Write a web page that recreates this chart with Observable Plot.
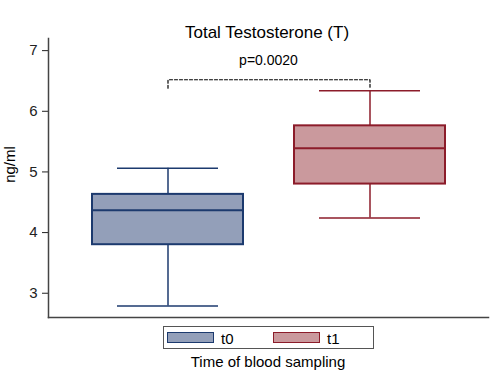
<!DOCTYPE html>
<html><head><meta charset="utf-8">
<script src="https://cdn.jsdelivr.net/npm/d3@7"></script>
<script src="https://cdn.jsdelivr.net/npm/@observablehq/plot@0.6"></script>
<style>
body{margin:0;background:#fff;font-family:"Liberation Sans",Arial,sans-serif;}
#wrap{position:relative;width:490px;height:388px;overflow:hidden;}
.abs{position:absolute;line-height:1;white-space:nowrap;color:#000;}
.sw{position:absolute;box-sizing:border-box;border:1.5px solid;}
</style></head><body>
<div id="wrap">
  <div id="chart" style="position:absolute;left:0;top:0"></div>
  <div class="abs" style="left:117px;width:300px;text-align:center;top:24px;font-size:17px;">Total Testosterone (T)</div>
  <div class="abs" style="left:-41px;width:100px;text-align:center;top:157px;height:15px;font-size:15px;transform:rotate(-90deg);">ng/ml</div>
  <div id="legend" style="position:absolute;left:163px;top:326px;width:211px;height:23px;box-sizing:border-box;border:1px solid #555;"></div>
  <div class="abs" style="left:118px;width:300px;text-align:center;top:354px;font-size:15px;">Time of blood sampling</div>
</div>
<script>
const groups = ["t0", "t1"];
const whiskerLow = [2.79, 4.24];
const q1 = [3.80, 4.80];
const median = [4.37, 5.39];
const q3 = [4.63, 5.76];
const whiskerHigh = [5.06, 6.34];
const fills = ["#939fb9", "#ca999d"];
const strokes = ["#1c3a6e", "#8c1c2a"];
const yTicks = [3, 4, 5, 6, 7];
const pLabel = "p=0.0020";
const bracketLow = 6.38;
const bracketHigh = 6.52;

const rows = groups.map((g, i) => ({
  group: g, lo: whiskerLow[i], q1: q1[i], med: median[i], q3: q3[i], hi: whiskerHigh[i],
  fill: fills[i], stroke: strokes[i]
}));
const bracket = [
  {group: groups[0], v: bracketLow}, {group: groups[0], v: bracketHigh},
  {group: groups[1], v: bracketHigh}, {group: groups[1], v: bracketLow}
];

const chart = Plot.plot({
  width: 490, height: 320,
  marginTop: 38, marginBottom: 3, marginLeft: 48, marginRight: 2,
  style: {fontFamily: '"Liberation Sans", Arial, sans-serif', fontSize: "15px", color: "#222", background: "#fff"},
  x: {type: "band", domain: groups, paddingInner: 0.2525, paddingOuter: 0.215, axis: null},
  y: {domain: [2.6, 7.2], ticks: yTicks, tickSize: 6, tickPadding: 5, label: null, tickFormat: d => String(d)},
  color: {type: "identity"},
  marks: [
    Plot.ruleX(rows, {x: "group", y1: "lo", y2: "q1", stroke: "stroke", strokeWidth: 1.5}),
    Plot.ruleX(rows, {x: "group", y1: "q3", y2: "hi", stroke: "stroke", strokeWidth: 1.5}),
    Plot.tickY(rows, {x: "group", y: "lo", stroke: "stroke", strokeWidth: 1.5, inset: 25}),
    Plot.tickY(rows, {x: "group", y: "hi", stroke: "stroke", strokeWidth: 1.5, inset: 25}),
    Plot.barY(rows, {x: "group", y1: "q1", y2: "q3", fill: "fill", stroke: "stroke", strokeWidth: 2}),
    Plot.tickY(rows, {x: "group", y: "med", stroke: "stroke", strokeWidth: 2}),
    Plot.line(bracket, {x: "group", y: "v", stroke: "#000", strokeWidth: 1.2, strokeDasharray: "3,2"}),
    Plot.text([pLabel], {text: d => d, frameAnchor: "top", dy: 17, fontSize: 14, fill: "#000"}),
    Plot.frame({anchor: "left", stroke: "#444", strokeWidth: 1.5}),
    Plot.frame({anchor: "bottom", stroke: "#444", strokeWidth: 1.5})
  ]
});
document.getElementById("chart").appendChild(chart);

const legend = document.getElementById("legend");
const swLeft = [3, 109];
groups.forEach((g, i) => {
  const sw = document.createElement("div");
  sw.className = "sw";
  sw.style.cssText = `left:${swLeft[i]}px;top:5px;width:47px;height:11px;background:${fills[i]};border-color:${strokes[i]};`;
  legend.appendChild(sw);
  const t = document.createElement("div");
  t.className = "abs";
  t.style.cssText = `left:${swLeft[i] + 54}px;top:4px;font-size:15px;`;
  t.textContent = g;
  legend.appendChild(t);
});
</script>
</body></html>
